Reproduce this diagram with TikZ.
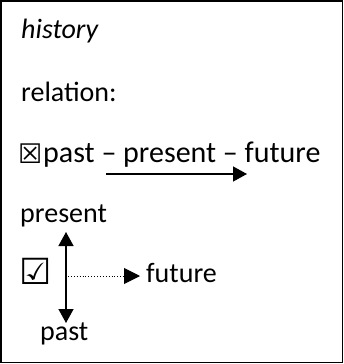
\documentclass[tikz,border=0pt]{standalone}
\usepackage{fontspec}
\setmainfont{Carlito}
\newfontfamily\symfont{DejaVu Sans}
\usetikzlibrary{arrows.meta}
\tikzset{
  lbl/.style={anchor=base west, inner sep=0pt, font=\fontsize{28}{34}\selectfont},
  biglbl/.style={anchor=base west, inner sep=0pt, font=\fontsize{30}{36}\selectfont},
  sym/.style={anchor=base west, inner sep=0pt, font=\symfont\fontsize{27}{32}\selectfont},
  bigsym/.style={anchor=base west, inner sep=0pt, font=\symfont\fontsize{36}{40}\selectfont},
  arr/.style={line width=1.3pt, -{Triangle[length=14pt,width=15pt]}},
  darr/.style={line width=1.3pt, {Triangle[length=14pt,width=15pt]}-{Triangle[length=14pt,width=15pt]}},
  dotarr/.style={line width=0.9pt, dotted, -{Triangle[length=16pt,width=16pt]}}
}
\begin{document}
\begin{tikzpicture}[x=1pt,y=-1pt]
\useasboundingbox (0,0) rectangle (344,364);
\draw[line width=1.2pt] (1,1) rectangle (342.5,362.5);
\node[lbl] (hist) at (21,38) {\textit{history}};
\node[lbl] (rel) at (21,101) {relation:};
\node[sym] (xbox) at (18,163) {☒};
\node[biglbl] (seq) at (43,162) {past – present – future};
\coordinate (a1) at (106,174);
\coordinate (a2) at (247,174);
\draw[arr] (a1) -- (a2);
\node[lbl] (pres) at (20,222) {present};
\node[bigsym] (cbox) at (19,284) {☑};
\coordinate (vtop) at (66,232);
\coordinate (vbot) at (66,323);
\draw[darr] (vbot) -- (vtop);
\coordinate (d1) at (68,276);
\coordinate (d2) at (140,276);
\node[lbl] (fut) at (146,282) {future};
\draw[dotarr] (d1) -- (d2);
\node[lbl] (past) at (40,340) {past};
\end{tikzpicture}
\end{document}
